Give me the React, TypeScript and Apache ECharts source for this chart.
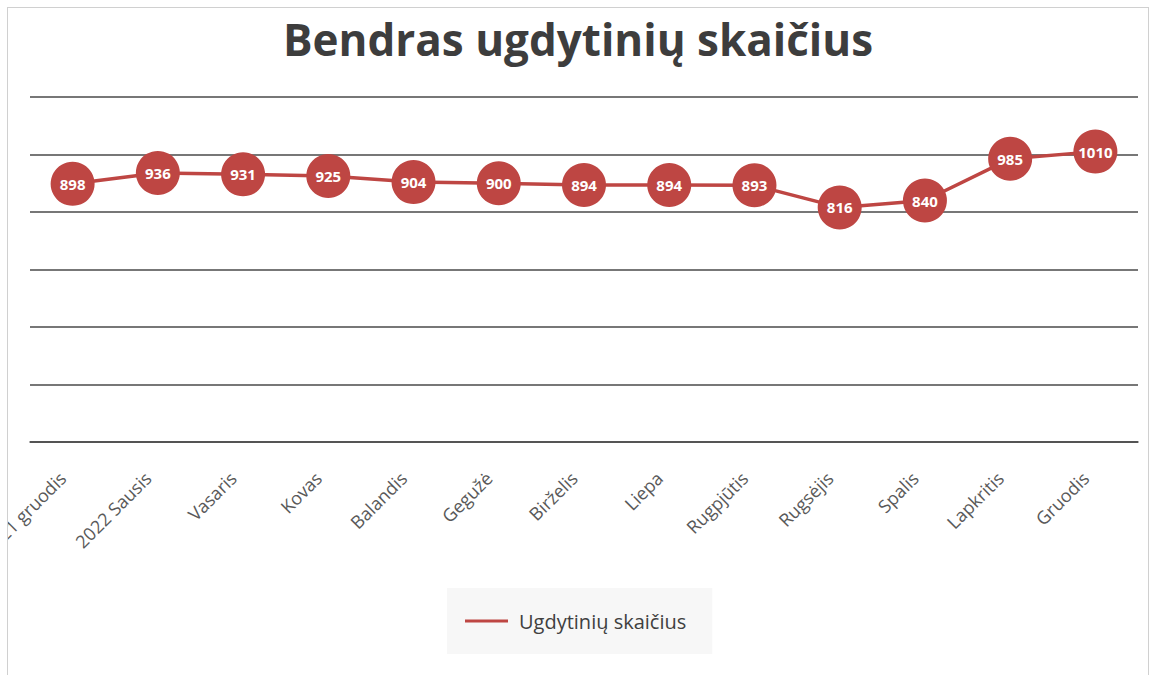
import React, { useEffect, useRef } from "react";
import * as echarts from "echarts";

const TITLE = "Bendras ugdytinių skaičius";
const SERIES_NAME = "Ugdytinių skaičius";
const categories = [
  "2021 gruodis",
  "2022 Sausis",
  "Vasaris",
  "Kovas",
  "Balandis",
  "Gegužė",
  "Birželis",
  "Liepa",
  "Rugpjūtis",
  "Rugsėjis",
  "Spalis",
  "Lapkritis",
  "Gruodis",
];
const values = [898, 936, 931, 925, 904, 900, 894, 894, 893, 816, 840, 985, 1010];
const Y_MIN = 0;
const Y_MAX = 1200;
const Y_STEP = 200;

const RED = "#be4643";
const FONT = "'Open Sans', 'Noto Sans', sans-serif";

export default function App() {
  const ref = useRef<HTMLDivElement>(null);
  useEffect(() => {
    if (!ref.current) return;
    const chart = echarts.init(ref.current, undefined, { renderer: "svg" });
    chart.setOption({
      animation: false,
      backgroundColor: "#ffffff",
      title: {
        text: TITLE,
        left: "center",
        top: 4,
        textStyle: {
          fontFamily: FONT,
          fontSize: 44,
          fontWeight: "bold",
          color: "#3d3d3d",
        },
      },
      grid: {
        left: 22,
        right: 10,
        top: 89,
        bottom: 233,
        containLabel: false,
        outerBoundsMode: "none",
      },
      xAxis: {
        type: "category",
        data: categories,
        boundaryGap: true,
        axisLine: { show: true, lineStyle: { color: "#4a4a4a", width: 1.5 } },
        axisTick: { show: false },
        axisLabel: {
          rotate: 45,
          interval: 0,
          margin: 23,
          padding: [0, 14, 0, 0],
          color: "#595959",
          fontSize: 18,
          fontFamily: FONT,
        },
      },
      yAxis: {
        type: "value",
        min: Y_MIN,
        max: Y_MAX,
        interval: Y_STEP,
        axisLabel: { show: false },
        axisLine: { show: false },
        axisTick: { show: false },
        splitLine: { show: true, lineStyle: { color: "#4a4a4a", width: 1.5 } },
      },
      legend: {
        data: [{ name: SERIES_NAME, icon: "rect" }],
        left: 439,
        top: 580,
        backgroundColor: "#f7f7f7",
        padding: [23, 26, 23, 18],
        itemWidth: 43,
        itemHeight: 3,
        textStyle: {
          fontFamily: FONT,
          fontSize: 20,
          color: "#404040",
          padding: [0, 0, 0, 6],
        },
      },
      series: [
        {
          name: SERIES_NAME,
          type: "line",
          data: values,
          symbol: "circle",
          symbolSize: 44,
          lineStyle: { color: RED, width: 3.5 },
          itemStyle: { color: RED },
          label: {
            show: true,
            position: "inside",
            color: "#ffffff",
            fontWeight: "bold",
            fontSize: 15,
            fontFamily: FONT,
          },
        },
      ],
    });
    return () => chart.dispose();
  }, []);
  return (
    <div
      style={{
        position: "absolute",
        left: 7,
        top: 7,
        borderTop: "1px solid #d0d0d0",
        borderLeft: "1px solid #d0d0d0",
        borderRight: "1px solid #d0d0d0",
        width: 1140,
        height: 667,
        overflow: "hidden",
      }}
    >
      <div ref={ref} style={{ width: 1140, height: 667 }} />
    </div>
  );
}
